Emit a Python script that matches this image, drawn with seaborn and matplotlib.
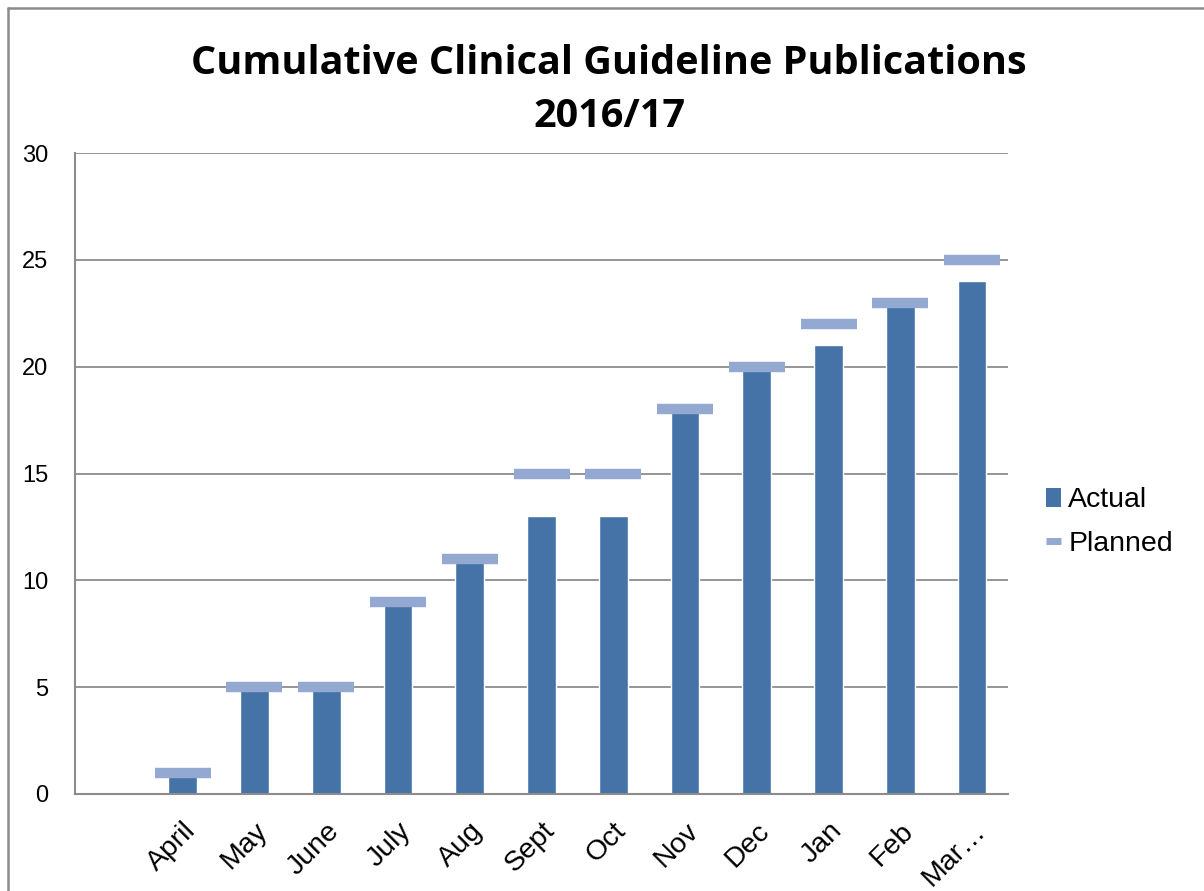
import numpy as np
import matplotlib
matplotlib.use('Agg')
import matplotlib.pyplot as plt
from matplotlib.patches import Patch
from matplotlib.lines import Line2D
import seaborn as sns

# Data (first slot is an empty category, as in the original chart)
months = ['', 'April', 'May', 'June', 'July', 'Aug', 'Sept', 'Oct', 'Nov', 'Dec', 'Jan', 'Feb', 'Mar…']
actual = [np.nan, 1, 5, 5, 9, 11, 13, 13, 18, 20, 21, 23, 24]
planned = [np.nan, 1, 5, 5, 9, 11, 15, 15, 18, 20, 22, 23, 25]

bar_color = '#4573A7'
plan_color = '#93A9D1'
grid_color = '#8C8C8C'

sns.set_style('white')
plt.rcParams['font.family'] = ['Liberation Sans', 'DejaVu Sans']
plt.rcParams['text.color'] = 'black'
plt.rcParams['xtick.labelcolor'] = 'black'
plt.rcParams['ytick.labelcolor'] = 'black'

fig = plt.figure(figsize=(12.04, 8.91), dpi=100)
ax = fig.add_axes([75 / 1204, 1 - 794 / 891, (1008 - 75) / 1204, (794 - 153) / 891])

sns.barplot(x=months, y=actual, order=months, color=bar_color, width=0.4,
            saturation=1, ax=ax, zorder=2)
sns.pointplot(x=months, y=planned, order=months, color=plan_color, linestyle='none',
              marker='_', markersize=40, markeredgewidth=7.5, ax=ax, zorder=3)

ax.set_xlim(-0.5, len(months) - 0.5)
ax.set_ylim(0, 30)
ax.set_yticks(range(0, 31, 5))
ax.yaxis.grid(True, color=grid_color, linewidth=1.3)
ax.set_axisbelow(True)

for s in ['top', 'right']:
    ax.spines[s].set_visible(False)
for s in ['left', 'bottom']:
    ax.spines[s].set_color(grid_color)
    ax.spines[s].set_linewidth(1.5)

ax.tick_params(axis='y', length=7, width=1.3, color=grid_color, labelsize=17, pad=12)
ax.set_xticks(np.arange(len(months)))
ax.set_xticklabels(months, rotation=45, ha='right', va='top', rotation_mode='anchor', fontsize=20.5)
ax.tick_params(axis='x', which='major', length=0, pad=17)
ax.set_xticks(np.arange(len(months) + 1) - 0.5, minor=True)
ax.tick_params(axis='x', which='minor', length=7, width=1.3, color=grid_color)
ax.set_xlabel('')
ax.set_ylabel('')

fig.text(0.506, 0.899, 'Cumulative Clinical Guideline Publications\n2016/17',
         ha='center', va='center', fontsize=28.5, fontweight='bold',
         family=['Open Sans', 'DejaVu Sans'], linespacing=1.45)

handles = [Patch(facecolor=bar_color, edgecolor='none'),
           Line2D([0], [0], color=plan_color, linewidth=5, solid_capstyle='butt')]
fig.legend(handles, ['Actual', 'Planned'], loc='center left',
           bbox_to_anchor=(1020 / 1204, 1 - 522 / 891), frameon=False,
           fontsize=20.5, handlelength=0.55, handleheight=0.7, handletextpad=0.25,
           labelspacing=0.6)

# chart-area border
fig.add_artist(Line2D([8 / 1204, 8 / 1204], [0, 1 - 8 / 891], color=grid_color, linewidth=1.8))
fig.add_artist(Line2D([8 / 1204, 1], [1 - 8 / 891, 1 - 8 / 891], color=grid_color, linewidth=1.8))

fig.savefig('out.png', dpi=100)
